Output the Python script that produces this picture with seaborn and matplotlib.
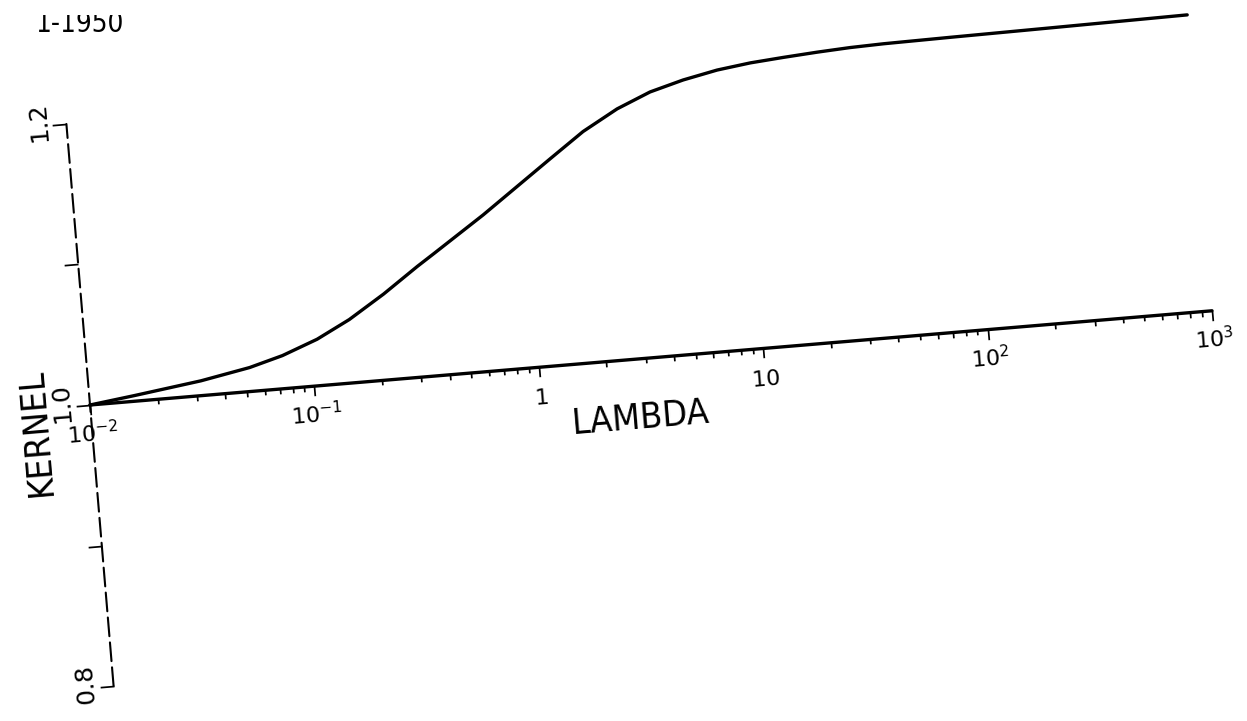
import numpy as np
import matplotlib
matplotlib.use("Agg")
import matplotlib.pyplot as plt
import seaborn as sns
from matplotlib.transforms import Affine2D, Bbox
from mpl_toolkits.axisartist import floating_axes
from mpl_toolkits.axisartist.grid_finder import FixedLocator, DictFormatter

# Kernel as a function of lambda
lam = [0.01, 0.0158, 0.0316, 0.0525, 0.0741, 0.107, 0.151, 0.219, 0.316,
       0.380, 0.646, 1.35, 1.92, 2.77, 3.93, 5.56, 7.93, 11.2, 15.7, 22.3,
       31.3, 44.2, 87.5, 236.0, 1000.0]
kernel = [1.0000, 1.0040, 1.0105, 1.0170, 1.0235, 1.0330, 1.0450, 1.0610, 1.0785,
          1.0868, 1.1110, 1.1470, 1.1640, 1.1780, 1.1880, 1.1945, 1.1995, 1.2026,
          1.2045, 1.2062, 1.2075, 1.2082, 1.2088, 1.2095, 1.2106]

x_ticks = [0.01, 0.1, 1, 10, 100, 1000]
x_ticklabels = [r"$10^{-2}$", r"$10^{-1}$", r"$1$", r"$10$", r"$10^{2}$", r"$10^{3}$"]
y_ticks = [0.8, 0.9, 1.0, 1.1, 1.2]
y_ticklabels = ["0.8", "", "1.0", "", "1.2"]
title = "1-1950"
x_label = "LAMBDA"
y_label = "KERNEL"

sns.set_theme(style="white")
plt.rcParams["font.family"] = ["DejaVu Sans"]
plt.rcParams["mathtext.fontset"] = "dejavusans"
plt.rcParams["axes.edgecolor"] = "black"
plt.rcParams["text.color"] = "black"
plt.rcParams["xtick.color"] = "black"
plt.rcParams["ytick.color"] = "black"

W, H = 1247, 721
fig = plt.figure(figsize=(W / 100, H / 100), dpi=100)
fig.patch.set_facecolor("white")

# plot frame: log10(lambda) and kernel, scaled to pixels and tilted slightly
tilt = 4.8
px_per_decade = 225.2
px_per_unit = 1410.0
origin = (90.0, H - 405.0)
frame = (Affine2D().translate(2.0, -1.0)
         .scale(px_per_decade, px_per_unit)
         .rotate_deg(tilt)
         .translate(*origin))

major = [round(float(np.log10(v)), 6) for v in x_ticks]
minor = [round(float(np.log10(m * 10.0 ** d)), 6)
         for d in range(-2, 3) for m in range(2, 10)]
extremes = (major[0], major[-1], y_ticks[0], y_ticks[-1])


def make_axes(locator1, formatter1):
    helper = floating_axes.GridHelperCurveLinear(
        frame, extremes=extremes,
        grid_locator1=FixedLocator(locator1), tick_formatter1=formatter1,
        grid_locator2=FixedLocator(y_ticks),
    )
    a = fig.add_axes([0, 0, 1, 1], axes_class=floating_axes.FloatingAxes,
                     grid_helper=helper)
    a.set_xlim(0, W)
    a.set_ylim(0, H)
    for side in ("bottom", "right", "top"):
        a.axis[side].set_visible(False)
    return a


# main frame: vertical axis, lambda axis at kernel = 1 with decade ticks
ax = make_axes(major, DictFormatter(dict(zip(major, x_ticklabels))))
ax.patch.set_facecolor("white")

left = ax.axis["left"]
left.line.set_linewidth(1.5)
left.line.set_linestyle((0, (9, 3)))
left.major_ticks.set_tick_out(True)
left.major_ticks.set_ticksize(10)
left.major_ticks.set_linewidth(1.8)
left.major_ticklabels.set_visible(False)

xax = ax.new_floating_axis(1, 1.0)
ax.axis["lambda"] = xax
xax.line.set_linewidth(2.4)
xax.major_ticks.set_tick_out(True)
xax.major_ticks.set_ticksize(7)
xax.major_ticks.set_linewidth(1.3)
xax.major_ticklabels.set_fontsize(16)

# overlay frame carrying only the minor lambda ticks
ax_minor = make_axes(minor, None)
ax_minor.patch.set_visible(False)
ax_minor.axis["left"].set_visible(False)
xmin_ax = ax_minor.new_floating_axis(1, 1.0)
ax_minor.axis["lambda_minor"] = xmin_ax
xmin_ax.line.set_visible(False)
xmin_ax.major_ticklabels.set_visible(False)
xmin_ax.major_ticks.set_tick_out(True)
xmin_ax.major_ticks.set_ticksize(3.5)
xmin_ax.major_ticks.set_linewidth(1.1)

data_ax = ax.get_aux_axes(frame)
sns.lineplot(x=np.log10(lam), y=kernel, ax=data_ax, color="black",
             linewidth=2.4, errorbar=None)

# kernel tick labels, written along the vertical axis
for v, s in zip(y_ticks, y_ticklabels):
    if s:
        data_ax.annotate(s, (extremes[0], v), xytext=(-28, 2),
                         textcoords="offset pixels", rotation=90 + tilt,
                         rotation_mode="anchor", ha="center", va="center",
                         fontsize=18)

data_ax.text(0.433, 0.958, x_label, rotation=tilt, rotation_mode="anchor",
             ha="center", va="center", fontsize=26, fontstretch="condensed")
data_ax.text(-2.245, 0.984, y_label, rotation=90 + tilt, rotation_mode="anchor",
             ha="center", va="center", fontsize=26, fontstretch="condensed")

t = fig.text(35, H - 32, title, transform=None, ha="left", va="baseline",
             fontsize=20, fontstretch="condensed")
t.set_clip_box(Bbox.from_extents(0, 0, W, H - 15))
t.set_clip_on(True)

fig.savefig("out.png", dpi=100, facecolor="white")
